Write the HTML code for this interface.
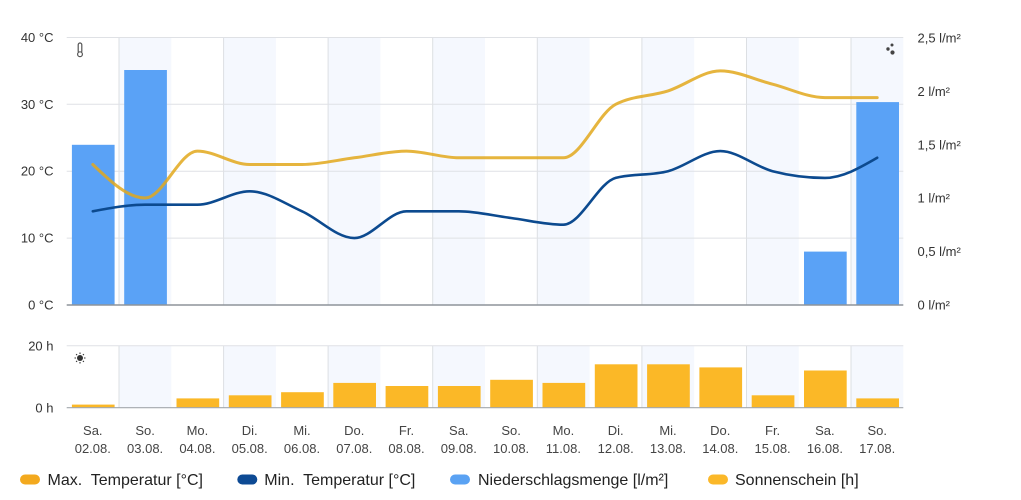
<!DOCTYPE html>
<html><head><meta charset="utf-8"><style>
html,body{margin:0;padding:0;background:#fff;}
svg{display:block;font-family:"Liberation Sans",Arial,sans-serif;}
</style></head><body>
<svg width="1021" height="500" viewBox="0 0 1021 500" xmlns="http://www.w3.org/2000/svg">
<rect width="1021" height="500" fill="#fff"/>
<!-- shaded columns top -->
<g fill="#f5f8fe">
<rect x="119.0" y="38" width="52.3" height="267"/>
<rect x="223.6" y="38" width="52.3" height="267"/>
<rect x="328.1" y="38" width="52.3" height="267"/>
<rect x="432.7" y="38" width="52.3" height="267"/>
<rect x="537.3" y="38" width="52.3" height="267"/>
<rect x="641.9" y="38" width="52.3" height="267"/>
<rect x="746.5" y="38" width="52.3" height="267"/>
<rect x="851.0" y="38" width="52.3" height="267"/>
<rect x="119.0" y="346" width="52.3" height="62"/>
<rect x="223.6" y="346" width="52.3" height="62"/>
<rect x="328.1" y="346" width="52.3" height="62"/>
<rect x="432.7" y="346" width="52.3" height="62"/>
<rect x="537.3" y="346" width="52.3" height="62"/>
<rect x="641.9" y="346" width="52.3" height="62"/>
<rect x="746.5" y="346" width="52.3" height="62"/>
<rect x="851.0" y="346" width="52.3" height="62"/>
</g>
<!-- vertical grid -->
<g stroke="#dcdfe3" stroke-width="1">
<path d="M119.0 38V305M223.6 38V305M328.1 38V305M432.7 38V305M537.3 38V305M641.9 38V305M746.5 38V305M851.0 38V305"/>
<path d="M119.0 346V408M223.6 346V408M328.1 346V408M432.7 346V408M537.3 346V408M641.9 346V408M746.5 346V408M851.0 346V408"/>
</g>
<!-- horizontal grid -->
<g stroke="#dfe1e5" stroke-width="1">
<path d="M66.7 37.5H903.3M66.7 104.3H903.3M66.7 171.2H903.3M66.7 238.1H903.3"/>
<path d="M66.7 345.7H903.3"/>
</g>
<!-- rain bars -->
<g fill="#5aa2f6">
<rect x="71.9" y="144.8" width="42.7" height="160.2"/>
<rect x="124.2" y="70.0" width="42.7" height="235"/>
<rect x="804.0" y="251.6" width="42.7" height="53.4"/>
<rect x="856.3" y="102.1" width="42.7" height="202.9"/>
</g>
<!-- baselines -->
<path d="M66.7 305H903.3" stroke="#8e949a" stroke-width="1.5"/>
<!-- sunshine bars -->
<g fill="#fbb827">
<rect x="71.9" y="404.6" width="42.7" height="3.1"/>
<rect x="176.5" y="398.4" width="42.7" height="9.3"/>
<rect x="228.8" y="395.3" width="42.7" height="12.4"/>
<rect x="281.1" y="392.2" width="42.7" height="15.5"/>
<rect x="333.3" y="382.9" width="42.7" height="24.8"/>
<rect x="385.6" y="386.0" width="42.7" height="21.7"/>
<rect x="437.9" y="386.0" width="42.7" height="21.7"/>
<rect x="490.2" y="379.8" width="42.7" height="27.9"/>
<rect x="542.5" y="382.9" width="42.7" height="24.8"/>
<rect x="594.8" y="364.3" width="42.7" height="43.4"/>
<rect x="647.1" y="364.3" width="42.7" height="43.4"/>
<rect x="699.4" y="367.4" width="42.7" height="40.3"/>
<rect x="751.7" y="395.3" width="42.7" height="12.4"/>
<rect x="804.0" y="370.5" width="42.7" height="37.2"/>
<rect x="856.3" y="398.4" width="42.7" height="9.3"/>
</g>
<path d="M66.7 407.7H903.3" stroke="#a3a8ad" stroke-width="1.2"/>
<!-- min temp line -->
<path fill="none" stroke="#0c4a8f" stroke-width="2.6" stroke-linecap="round" stroke-linejoin="round" d="M92.8 211.3 C110.2 208.0 127.7 204.7 145.1 204.7 C162.5 204.7 180.0 204.7 197.4 204.7 C214.8 204.7 232.3 191.3 249.7 191.3 C267.1 191.3 284.6 203.5 302.0 211.3 C319.4 219.1 336.9 238.1 354.3 238.1 C371.7 238.1 389.1 211.3 406.5 211.3 C423.9 211.3 441.4 211.3 458.8 211.3 C476.2 211.3 493.7 215.8 511.1 218.0 C528.5 220.3 546.0 224.7 563.4 224.7 C580.8 224.7 598.3 182.4 615.7 177.9 C633.1 173.4 650.6 175.7 668.0 171.2 C685.4 166.7 702.9 151.1 720.3 151.1 C737.7 151.1 755.2 166.7 772.6 171.2 C790.0 175.7 807.5 177.9 824.9 177.9 C842.3 177.9 859.8 167.9 877.2 157.8"/>
<!-- max temp line -->
<path fill="none" stroke="#e2a81c" stroke-opacity="0.85" stroke-width="3" stroke-linecap="round" stroke-linejoin="round" d="M92.8 164.5 C110.2 181.2 127.7 198.0 145.1 198.0 C162.5 198.0 180.0 151.1 197.4 151.1 C214.8 151.1 232.3 164.5 249.7 164.5 C267.1 164.5 284.6 164.5 302.0 164.5 C319.4 164.5 336.9 160.0 354.3 157.8 C371.7 155.6 389.1 151.1 406.5 151.1 C423.9 151.1 441.4 157.8 458.8 157.8 C476.2 157.8 493.7 157.8 511.1 157.8 C528.5 157.8 546.0 157.8 563.4 157.8 C580.8 157.8 598.3 113.2 615.7 104.3 C633.1 95.4 650.6 96.5 668.0 90.9 C685.4 85.3 702.9 70.9 720.3 70.9 C737.7 70.9 755.2 79.8 772.6 84.2 C790.0 88.7 807.5 97.6 824.9 97.6 C842.3 97.6 859.8 97.6 877.2 97.6"/>
<!-- icons -->
<g>
<rect x="78.2" y="43" width="3.6" height="10" rx="1.8" fill="none" stroke="#555" stroke-width="1.2"/>
<circle cx="80" cy="54.2" r="2.4" fill="#fff" stroke="#555" stroke-width="1.2"/>
</g>
<g fill="#444">
<circle cx="892" cy="45" r="1.5"/>
<circle cx="888" cy="49" r="1.7"/>
<circle cx="892.5" cy="52.5" r="2.1"/>
</g>
<g stroke="#333" stroke-width="1.1">
<circle cx="80" cy="358" r="3" fill="#333" stroke="none"/>
<path d="M80 352.5V354M80 362V363.5M74.5 358H76M84 358H85.5M76.1 354.1L77.1 355.1M82.9 360.9L83.9 361.9M76.1 361.9L77.1 360.9M82.9 355.1L83.9 354.1"/>
</g>
<!-- left axis labels -->
<g font-size="13" fill="#333" text-anchor="end">
<text x="53.5" y="42">40 °C</text>
<text x="53.5" y="109">30 °C</text>
<text x="53.5" y="175.7">20 °C</text>
<text x="53.5" y="242.6">10 °C</text>
<text x="53.5" y="309.5">0 °C</text>
<text x="53.5" y="350.5">20 h</text>
<text x="53.5" y="412.5">0 h</text>
</g>
<!-- right axis labels -->
<g font-size="13" fill="#333" text-anchor="start">
<text x="917.5" y="42.5">2,5 l/m²</text>
<text x="917.5" y="95.9">2 l/m²</text>
<text x="917.5" y="149.3">1,5 l/m²</text>
<text x="917.5" y="202.7">1 l/m²</text>
<text x="917.5" y="256.1">0,5 l/m²</text>
<text x="917.5" y="309.5">0 l/m²</text>
</g>
<!-- x labels -->
<g font-size="13" fill="#444" text-anchor="middle">
<text x="92.8" y="435">Sa.</text><text x="92.8" y="453">02.08.</text>
<text x="145.1" y="435">So.</text><text x="145.1" y="453">03.08.</text>
<text x="197.4" y="435">Mo.</text><text x="197.4" y="453">04.08.</text>
<text x="249.7" y="435">Di.</text><text x="249.7" y="453">05.08.</text>
<text x="302.0" y="435">Mi.</text><text x="302.0" y="453">06.08.</text>
<text x="354.3" y="435">Do.</text><text x="354.3" y="453">07.08.</text>
<text x="406.5" y="435">Fr.</text><text x="406.5" y="453">08.08.</text>
<text x="458.8" y="435">Sa.</text><text x="458.8" y="453">09.08.</text>
<text x="511.1" y="435">So.</text><text x="511.1" y="453">10.08.</text>
<text x="563.4" y="435">Mo.</text><text x="563.4" y="453">11.08.</text>
<text x="615.7" y="435">Di.</text><text x="615.7" y="453">12.08.</text>
<text x="668.0" y="435">Mi.</text><text x="668.0" y="453">13.08.</text>
<text x="720.3" y="435">Do.</text><text x="720.3" y="453">14.08.</text>
<text x="772.6" y="435">Fr.</text><text x="772.6" y="453">15.08.</text>
<text x="824.9" y="435">Sa.</text><text x="824.9" y="453">16.08.</text>
<text x="877.2" y="435">So.</text><text x="877.2" y="453">17.08.</text>
</g>
<!-- legend -->
<rect x="20" y="474.5" width="20" height="10" rx="5" fill="#f3a91e"/>
<rect x="237.3" y="474.5" width="20" height="10" rx="5" fill="#0d4a94"/>
<rect x="450" y="474.5" width="20" height="10" rx="5" fill="#5aa2f3"/>
<rect x="708" y="474.5" width="20" height="10" rx="5" fill="#fbb829"/>
<g font-size="16" fill="#222">
<text x="47.5" y="485">Max.&#160; Temperatur [°C]</text>
<text x="264.3" y="485">Min.&#160; Temperatur [°C]</text>
<text x="478" y="485">Niederschlagsmenge [l/m²]</text>
<text x="735" y="485">Sonnenschein [h]</text>
</g>
</svg>
</body></html>
